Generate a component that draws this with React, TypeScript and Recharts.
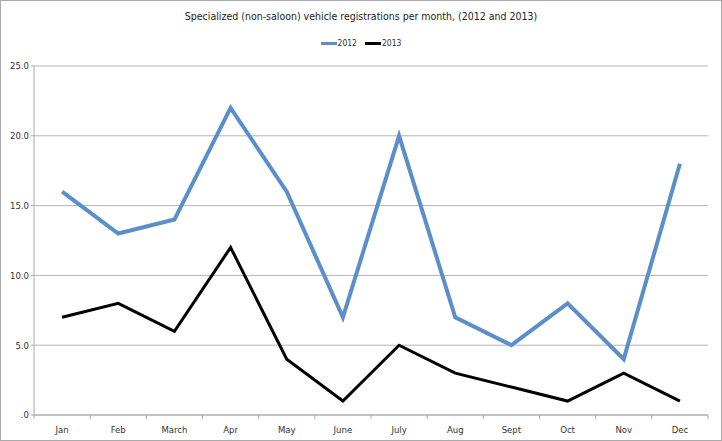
import { LineChart, Line, XAxis, YAxis, CartesianGrid } from 'recharts';

const months = ['Jan', 'Feb', 'March', 'Apr', 'May', 'June', 'July', 'Aug', 'Sept', 'Oct', 'Nov', 'Dec'];
const regs2012 = [16, 13, 14, 22, 16, 7, 20, 7, 5, 8, 4, 18];
const regs2013 = [7, 8, 6, 12, 4, 1, 5, 3, 2, 1, 3, 1];
const yTicks = [0, 5, 10, 15, 20, 25];

const data = months.map((m, i) => ({ month: m, y2012: regs2012[i], y2013: regs2013[i] }));

const FONT = "'Liberation Sans Narrow', 'DejaVu Sans Condensed', 'Liberation Sans', sans-serif";
const BLUE = '#5b8fc9';
const WIDTH = 722;
const HEIGHT = 441;
const PLOT_LEFT = 34;
const PLOT_RIGHT = 14;
const STEP = (WIDTH - PLOT_LEFT - PLOT_RIGHT) / months.length;

// category label plus the small tick mark Excel puts between categories
const MonthTick = (props: any) => {
  const { x, y, payload, index } = props;
  return (
    <g>
      <line x1={x + STEP / 2} x2={x + STEP / 2} y1={y - 8} y2={y - 4} stroke="#aaa" />
      {index === 0 && <line x1={x - STEP / 2} x2={x - STEP / 2} y1={y - 8} y2={y - 4} stroke="#aaa" />}
      <text x={x} y={y + 10} textAnchor="middle" fill="#333" fontSize={9.5} fontFamily={FONT}>
        {payload.value}
      </text>
    </g>
  );
};

export default function App() {
  return (
    <div style={{ position: 'absolute', left: 0, top: 0, width: WIDTH, height: HEIGHT, background: '#fff' }}>
      <div style={{ position: 'absolute', left: 0, top: 0, width: WIDTH - 2, height: HEIGHT - 2, border: '1px solid #aaa' }} />
      <div style={{ position: 'absolute', left: 0, top: 10, width: WIDTH, textAlign: 'center', fontFamily: FONT, fontSize: 10.5, color: '#222' }}>
        Specialized (non-saloon) vehicle registrations per month, (2012 and 2013)
      </div>
      <div style={{ position: 'absolute', left: 0, top: 38, width: WIDTH, display: 'flex', justifyContent: 'center', gap: 8, fontFamily: FONT, fontSize: 8.5, color: '#333' }}>
        <span style={{ display: 'flex', alignItems: 'center' }}>
          <span style={{ display: 'inline-block', width: 16, height: 3, background: BLUE, marginRight: 1 }} />2012
        </span>
        <span style={{ display: 'flex', alignItems: 'center' }}>
          <span style={{ display: 'inline-block', width: 16, height: 3, background: '#000', marginRight: 1 }} />2013
        </span>
      </div>
      <LineChart width={WIDTH} height={HEIGHT} data={data} margin={{ top: 66, right: PLOT_RIGHT, left: 0, bottom: 0 }}>
        <CartesianGrid vertical={false} stroke="#b4b4b4" />
        <XAxis
          dataKey="month"
          height={26}
          padding={{ left: STEP / 2, right: STEP / 2 }}
          tick={<MonthTick />}
          tickLine={false}
          axisLine={{ stroke: '#aaa' }}
          interval={0}
        />
        <YAxis
          width={PLOT_LEFT}
          domain={[0, 25]}
          ticks={yTicks}
          tickFormatter={(v: number) => (v === 0 ? '.0' : v.toFixed(1))}
          tick={{ fill: '#333', fontSize: 9.5, fontFamily: FONT }}
          tickSize={3}
          tickLine={{ stroke: '#aaa' }}
          axisLine={{ stroke: '#aaa' }}
        />
        <Line dataKey="y2012" stroke={BLUE} strokeWidth={4} dot={false} isAnimationActive={false} />
        <Line dataKey="y2013" stroke="#000" strokeWidth={3} dot={false} isAnimationActive={false} />
      </LineChart>
    </div>
  );
}
